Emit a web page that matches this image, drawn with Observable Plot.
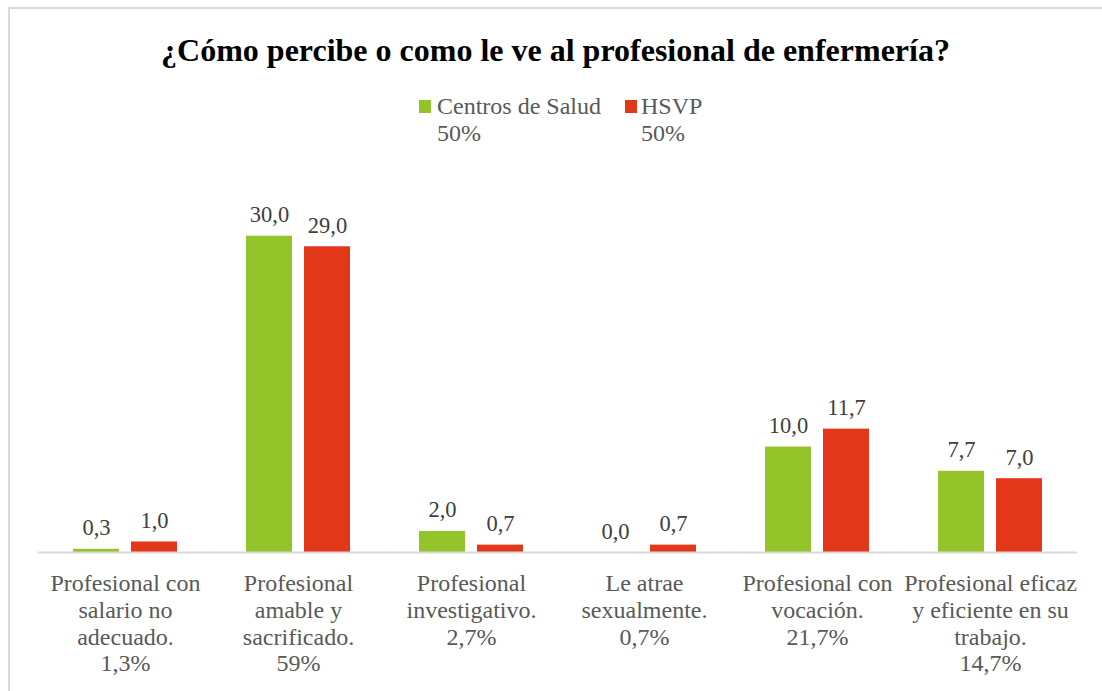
<!DOCTYPE html>
<html>
<head>
<meta charset="utf-8">
<script src="https://cdn.jsdelivr.net/npm/d3@7"></script>
<script src="https://cdn.jsdelivr.net/npm/@observablehq/plot@0.6"></script>
<style>
  body { margin: 0; background: #fff; width: 1102px; height: 691px; overflow: hidden; position: relative; font-family: "Liberation Serif", "Times New Roman", serif; }
  #frame { position: absolute; left: 8px; top: 7px; width: 1200px; height: 800px; border-left: 2px solid #d9d9d9; border-top: 2px solid #d9d9d9; }
  #title { position: absolute; left: 0; top: 31px; width: 1111px; text-align: center; font-weight: bold; font-size: 32px; line-height: 38px; color: #000; font-family: "Liberation Serif", serif; }
  .leg { position: absolute; font-size: 24px; color: #595959; line-height: 27px; font-family: "Liberation Serif", serif; }
  .sw { position: absolute; width: 12px; height: 13px; }
  #chart { position: absolute; left: 0; top: 150px; }
</style>
</head>
<body>
<div id="frame"></div>
<div id="title">¿Cómo percibe o como le ve al profesional de enfermería?</div>
<div id="legend"></div>
<div id="chart"></div>
<script>
const categories = [
  "Profesional con salario no adecuado.",
  "Profesional amable y sacrificado.",
  "Profesional investigativo.",
  "Le atrae sexualmente.",
  "Profesional con vocación.",
  "Profesional eficaz y eficiente en su trabajo."
];
const tickLabels = [
  "Profesional con\nsalario no\nadecuado.\n1,3%",
  "Profesional\namable y\nsacrificado.\n59%",
  "Profesional\ninvestigativo.\n2,7%",
  "Le atrae\nsexualmente.\n0,7%",
  "Profesional con\nvocación.\n21,7%",
  "Profesional eficaz\ny eficiente en su\ntrabajo.\n14,7%"
];
const seriesNames = ["Centros de Salud", "HSVP"];
const seriesShares = ["50%", "50%"];
const centrosValues = [0.3, 30.0, 2.0, 0.0, 10.0, 7.7];
const hsvpValues = [1.0, 29.0, 0.7, 0.7, 11.7, 7.0];
const colors = ["#93c42a", "#e3371a"];

const data = [];
categories.forEach((c, i) => {
  data.push({cat: c, series: seriesNames[0], value: centrosValues[i]});
  data.push({cat: c, series: seriesNames[1], value: hsvpValues[i]});
});
const labelOf = new Map(categories.map((c, i) => [c, tickLabels[i]]));
const fmt = v => v.toFixed(1).replace(".", ",");

// legend
const legend = document.getElementById("legend");
const legPos = [{sx: 419, tx: 437}, {sx: 625, tx: 641}];
seriesNames.forEach((s, i) => {
  const sw = document.createElement("div");
  sw.className = "sw";
  sw.style.left = legPos[i].sx + "px";
  sw.style.top = "100px";
  sw.style.background = colors[i];
  legend.appendChild(sw);
  const t = document.createElement("div");
  t.className = "leg";
  t.style.left = legPos[i].tx + "px";
  t.style.top = "93px";
  t.innerHTML = s + "<br>" + seriesShares[i];
  legend.appendChild(t);
});

const chart = Plot.plot({
  width: 1102,
  height: 543,
  marginLeft: 38,
  marginRight: 25,
  marginTop: 33,
  marginBottom: 141,
  style: {fontFamily: "'Liberation Serif', 'Times New Roman', serif", background: "transparent"},
  fx: {domain: categories, paddingInner: 0.4, paddingOuter: 0.2, label: null},
  x: {domain: seriesNames, paddingInner: 0.207, paddingOuter: 0, axis: null},
  y: {domain: [0, 35], axis: null},
  color: {domain: seriesNames, range: colors},
  marks: [
    Plot.barY(data, {fx: "cat", x: "series", y: "value", fill: "series"}),
    Plot.ruleY([0], {stroke: "#d9d9d9", strokeWidth: 2, insetLeft: -35, insetRight: -35}),
    Plot.text(data, {fx: "cat", x: "series", y: "value", text: d => fmt(d.value), lineAnchor: "bottom", dy: -14, fontSize: 22.5, fill: "#404040"}),
    Plot.axisFx({anchor: "bottom", tickSize: 0, tickPadding: 20, fontSize: 24, lineHeight: 1.11, fill: "#595959", tickFormat: c => labelOf.get(c), label: null})
  ]
});
document.getElementById("chart").appendChild(chart);
</script>
</body>
</html>
